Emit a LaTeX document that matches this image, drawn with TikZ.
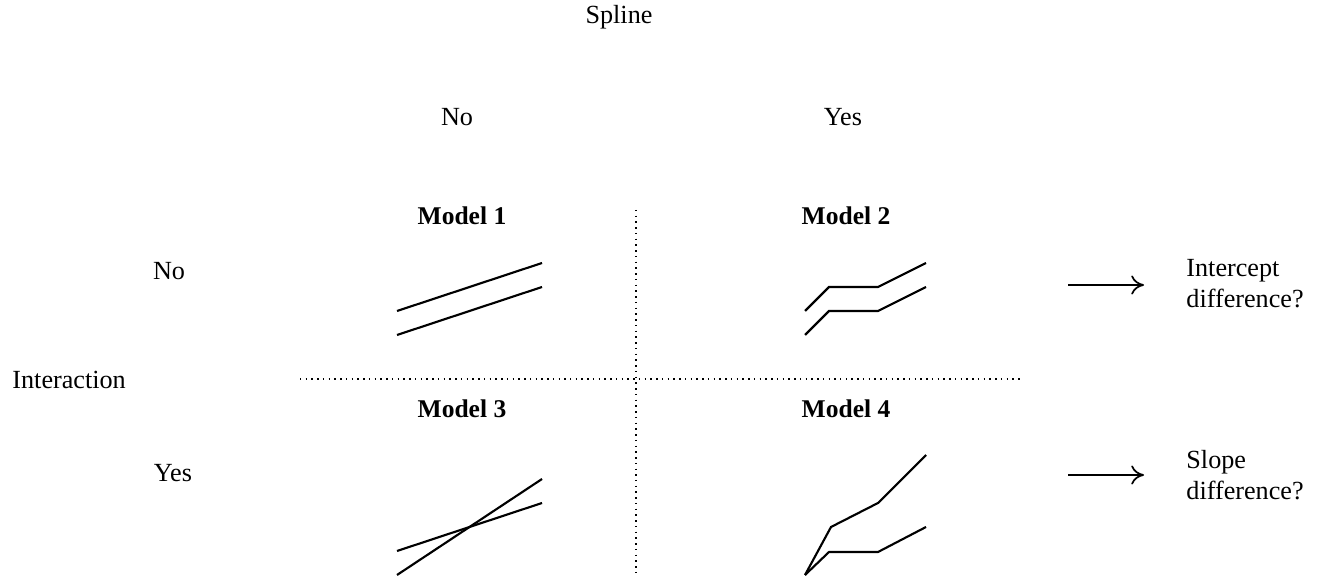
\documentclass[tikz,border=0pt]{standalone}
\usepackage{fontspec}
\setmainfont{Liberation Serif}
\usetikzlibrary{arrows.meta}
\begin{document}
\begin{tikzpicture}[x=0.47pt,y=-0.47pt,
  lbl/.style={font=\fontsize{12.3}{14.5}\selectfont, inner sep=0pt},
  mdl/.style={font=\fontsize{12}{14}\selectfont\bfseries, inner sep=0pt},
  curve/.style={line width=1pt, line join=miter},
  divider/.style={dotted, line width=0.7pt},
  arr/.style={line width=0.8pt, -{To[length=6pt,width=9pt]}}]
\useasboundingbox (0,0) rectangle (1323,579);
% headers
\node[lbl] (spline) at (619,17) {Spline};
\node[lbl] (sno) at (457,117) {No};
\node[lbl] (syes) at (843,117) {Yes};
\node[lbl] (ino) at (169,271) {No};
\node[lbl,anchor=west] (inter) at (12,380) {Interaction};
\node[lbl] (iyes) at (173,473) {Yes};
% model titles
\node[mdl] (m1) at (462,216) {Model 1};
\node[mdl] (m2) at (846,216) {Model 2};
\node[mdl] (m3) at (462,409) {Model 3};
\node[mdl] (m4) at (846,409) {Model 4};
% dividers
\coordinate (vt) at (636,210);
\coordinate (vb) at (636,573);
\coordinate (hl) at (300,379);
\coordinate (hr) at (1020,379);
\draw[divider] (vt) -- (vb);
\draw[divider] (hl) -- (hr);
% model 1
\draw[curve] (397,311) -- (542,263);
\draw[curve] (397,335) -- (542,287);
% model 2
\draw[curve] (805,311) -- (829,287) -- (878,287) -- (926,263);
\draw[curve] (805,335) -- (829,311) -- (878,311) -- (926,287);
% model 3
\draw[curve] (397,551) -- (542,503);
\draw[curve] (397,575) -- (542,479);
% model 4
\draw[curve] (805,575) -- (831,527) -- (878,503) -- (926,455);
\draw[curve] (805,575) -- (829,552) -- (878,552) -- (926,527);
% arrows and conclusions
\coordinate (a1s) at (1068,285);
\coordinate (a1e) at (1144,285);
\coordinate (a2s) at (1068,475);
\coordinate (a2e) at (1144,475);
\draw[arr] (a1s) -- (a1e);
\draw[arr] (a2s) -- (a2e);
\node[lbl,anchor=west,align=left] (int) at (1186,284) {Intercept\\difference?};
\node[lbl,anchor=west,align=left] (slo) at (1186,475) {Slope\\difference?};
\end{tikzpicture}
\end{document}
